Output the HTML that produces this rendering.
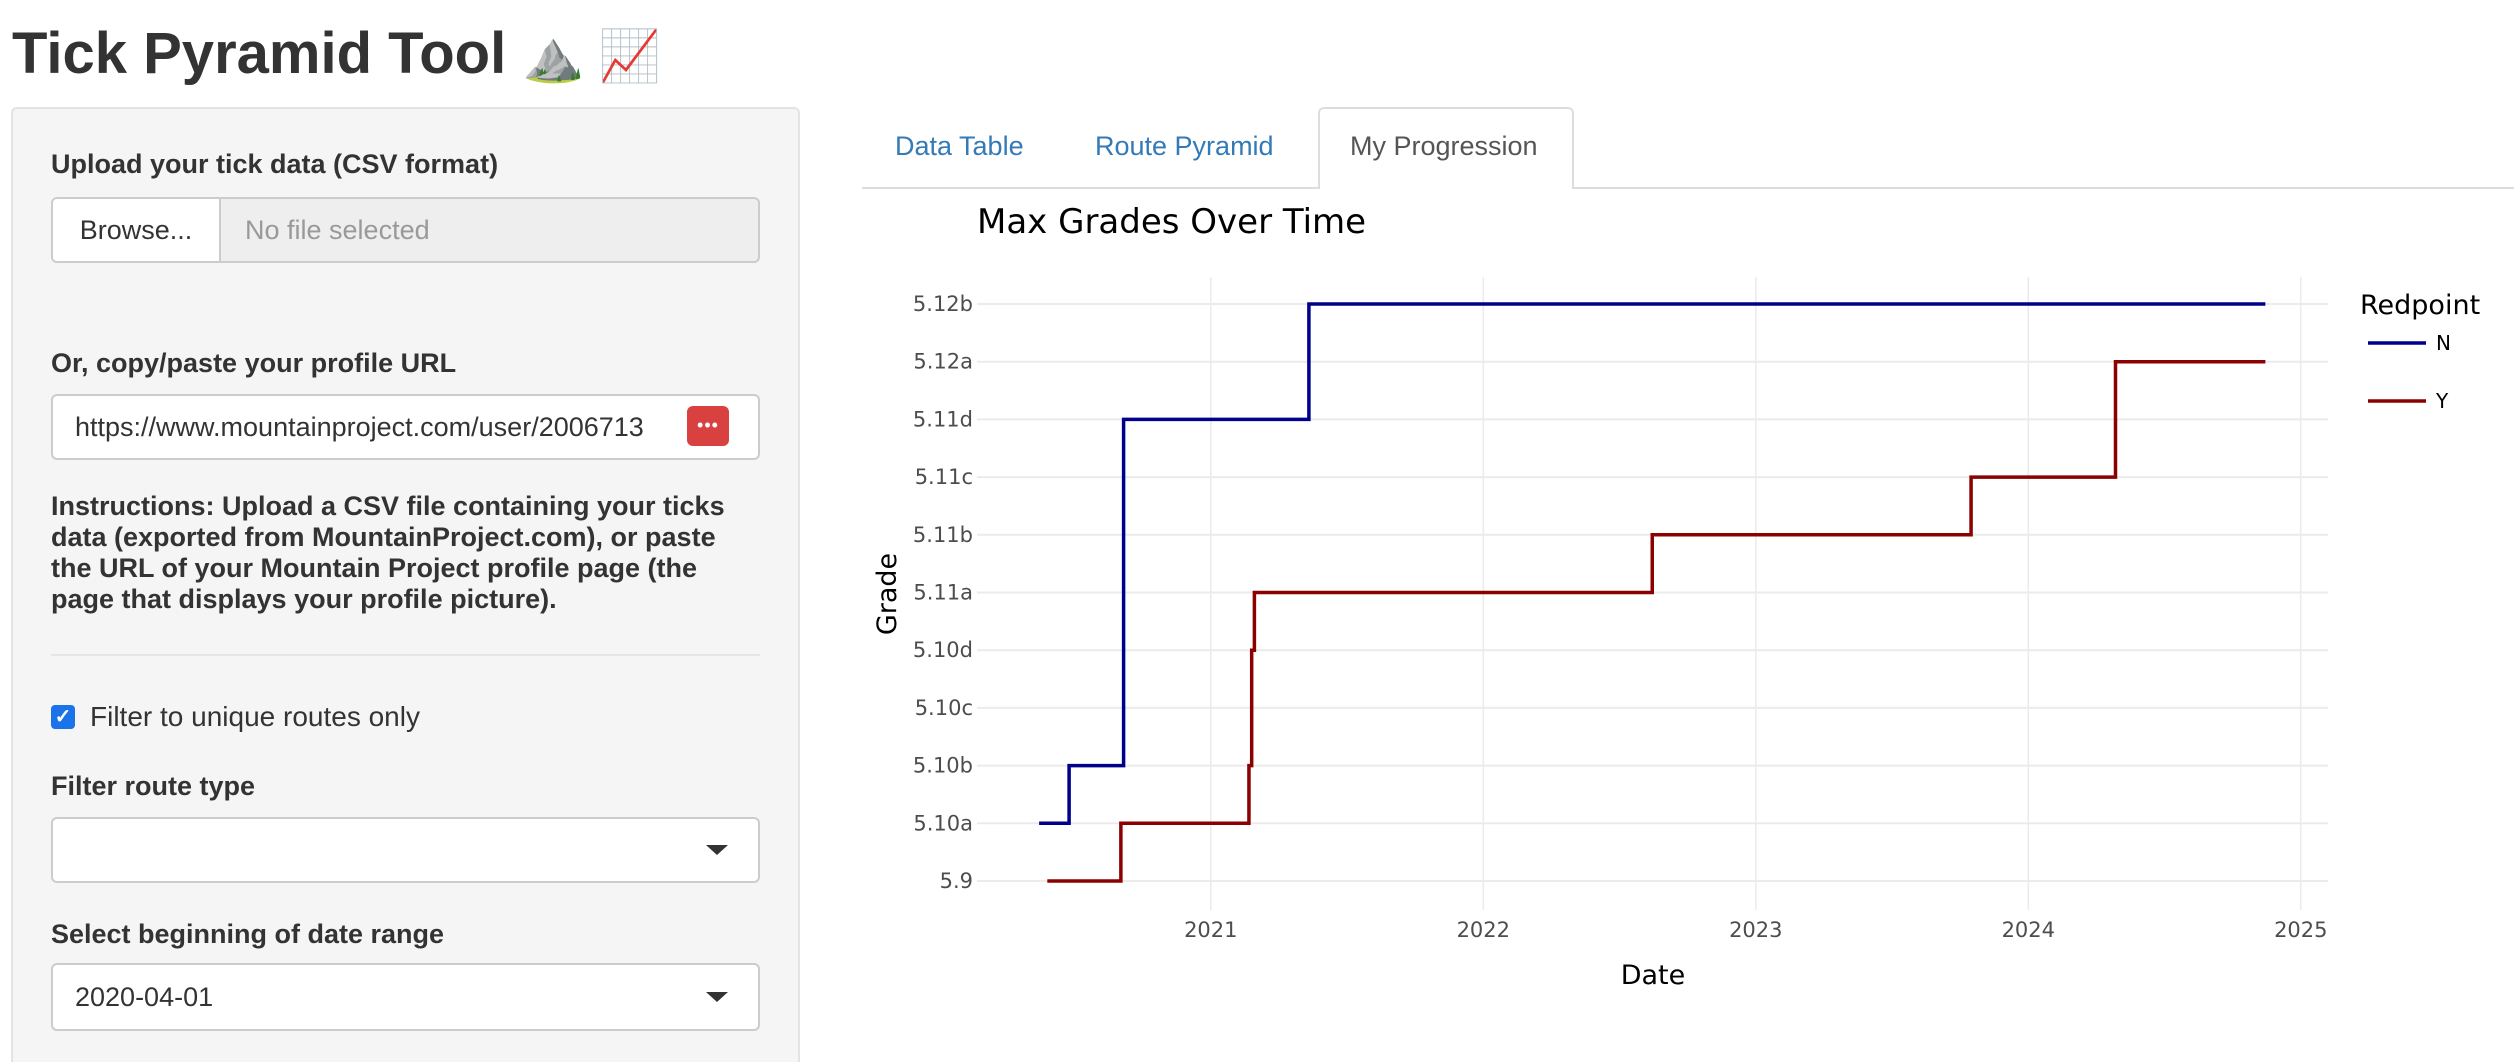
<!DOCTYPE html>
<html><head><meta charset="utf-8">
<style>
html,body{margin:0;width:2514px;height:1062px;overflow:hidden}
body{background:#fff;font-family:"Liberation Sans",sans-serif;color:#333;position:relative}
.a{position:absolute}
.lbl{position:absolute;left:51px;font-weight:bold;font-size:27px;color:#333;white-space:nowrap}
.inp{position:absolute;left:51px;width:709px;border:2px solid #ccc;border-radius:6px;background:#fff;box-sizing:border-box}
.caret{position:absolute;right:30px;top:50%;margin-top:-5px;width:0;height:0;border-left:11px solid transparent;border-right:11px solid transparent;border-top:10px solid #333}
.tab{position:absolute;font-size:27px;color:#337ab7;top:131px}
</style></head><body>
<div class="a" style="left:12px;top:20px;font-size:58px;font-weight:bold;color:#333;white-space:nowrap">Tick Pyramid Tool <span style="font-size:50px;font-weight:normal">⛰️ 📈</span></div>

<div class="a" style="left:11px;top:107px;width:789px;height:955px;background:#f5f5f5;border:2px solid #e3e3e3;border-bottom:none;border-radius:6px 6px 0 0;box-sizing:border-box"></div>

<div class="lbl" style="top:149px">Upload your tick data (CSV format)</div>
<div class="inp" style="top:197px;height:66px;background:#eee;overflow:hidden">
  <div class="a" style="left:0;top:0;width:166px;height:62px;background:#fff;border-right:2px solid #ccc;font-size:27px;line-height:62px;text-align:center;color:#333">Browse...</div>
  <div class="a" style="left:192px;top:0;line-height:62px;font-size:27px;color:#999">No file selected</div>
</div>

<div class="lbl" style="top:348px">Or, copy/paste your profile URL</div>
<div class="inp" style="top:394px;height:66px;overflow:hidden">
  <div class="a" style="left:22px;top:0;line-height:62px;font-size:27px;color:#333;white-space:nowrap">https://www.mountainproject.com/user/2006713</div>
  <div class="a" style="left:634px;top:10px;width:42px;height:40px;background:#d94040;border-radius:6px;color:#fff;font-size:18px;line-height:38px;text-align:center;letter-spacing:1px">•••</div>
</div>

<div class="a" style="left:51px;top:491px;width:680px;font-weight:bold;font-size:27px;line-height:31px;color:#333">Instructions: Upload a CSV file containing your ticks data (exported from MountainProject.com), or paste the URL of your Mountain Project profile page (the page that displays your profile picture).</div>

<div class="a" style="left:51px;top:654px;width:709px;height:2px;background:#e6e6e6"></div>

<div class="a" style="left:51px;top:705px;width:24px;height:24px;background:#1a73e8;border-radius:4px;color:#fff;font-size:20px;line-height:24px;text-align:center;font-weight:bold">✓</div>
<div class="a" style="left:90px;top:701px;font-size:28px;color:#333">Filter to unique routes only</div>

<div class="lbl" style="top:771px">Filter route type</div>
<div class="inp" style="top:817px;height:66px"><div class="caret"></div></div>

<div class="lbl" style="top:919px">Select beginning of date range</div>
<div class="inp" style="top:963px;height:68px"><div class="a" style="left:22px;top:0;line-height:64px;font-size:27px;color:#333">2020-04-01</div><div class="caret"></div></div>

<div class="a" style="left:862px;top:187px;width:1652px;height:2px;background:#ddd"></div>
<div class="a" style="left:1318px;top:107px;width:256px;height:82px;background:#fff;border:2px solid #ddd;border-bottom:none;border-radius:6px 6px 0 0;box-sizing:border-box"></div>
<div class="tab" style="left:895px">Data Table</div>
<div class="tab" style="left:1095px">Route Pyramid</div>
<div class="tab" style="left:1350px;color:#555">My Progression</div>

<svg class="a" style="left:0;top:0" width="2514" height="1062" id="chart"></svg>

<script>
const grades = ["5.9","5.10a","5.10b","5.10c","5.10d","5.11a","5.11b","5.11c","5.11d","5.12a","5.12b"];
const yearTicks = [2021,2022,2023,2024,2025];
const nDates = [2020.37,2020.48,2020.68,2021.36,2024.87];
const nGrades = [1,2,8,10,10];
const yDates = [2020.40,2020.67,2021.14,2021.15,2021.16,2022.62,2023.79,2024.32,2024.87];
const yGrades = [0,1,2,4,5,6,7,9,9];

const svg=document.getElementById('chart');
const NS='http://www.w3.org/2000/svg';
const X=v=>1210.8+(v-2021)*272.5;
const Y=i=>881-i*57.7;
function mk(tag,attrs,txt){const e=document.createElementNS(NS,tag);for(const k in attrs)e.setAttribute(k,attrs[k]);if(txt!==undefined)e.textContent=txt;svg.appendChild(e);return e;}
yearTicks.forEach(t=>{
  const l=mk('line',{x1:X(t),x2:X(t),y1:277,y2:910,stroke:'#ebebeb','stroke-width':1.5});
  
  
  const tx=mk('text',{x:X(t),y:937,'text-anchor':'middle','font-size':21,fill:'#4d4d4d','font-family':'DejaVu Sans, sans-serif'},String(t));
  
  
});
grades.forEach((g,i)=>{
  const l=mk('line',{x1:977,x2:2328,y1:Y(i),y2:Y(i),stroke:'#ebebeb','stroke-width':2});
  
  
  const tx=mk('text',{x:973,y:Y(i)+7,'text-anchor':'end','font-size':21,fill:'#4d4d4d','font-family':'DejaVu Sans, sans-serif'},g);
  
  
});
function step(ds,gs,color,name){
  let d='M'+X(ds[0])+','+Y(gs[0]);
  for(let i=1;i<ds.length;i++){d+=' H'+X(ds[i])+' V'+Y(gs[i]);}
  const p=mk('path',{d:d,fill:'none',stroke:color,'stroke-width':3.5});
  
  
}
step(nDates,nGrades,'#00008b','series-n-line');
step(yDates,yGrades,'#8b0000','series-y-line');
const t=mk('text',{x:977,y:233,'font-size':34,fill:'#000','font-family':'DejaVu Sans, sans-serif'},'Max Grades Over Time');


const xt=mk('text',{x:1653,y:984,'text-anchor':'middle','font-size':27,fill:'#000','font-family':'DejaVu Sans, sans-serif'},'Date');


const yt=mk('text',{x:0,y:0,'text-anchor':'middle','font-size':27,fill:'#000','font-family':'DejaVu Sans, sans-serif',transform:'translate(896,594) rotate(-90)'},'Grade');


const lt=mk('text',{x:2360,y:314,'font-size':27,fill:'#000','font-family':'DejaVu Sans, sans-serif'},'Redpoint');


[['N','#00008b',343],['Y','#8b0000',401]].forEach(([lab,c,y])=>{
  const l=mk('line',{x1:2368,x2:2426,y1:y,y2:y,stroke:c,'stroke-width':3.5});
  
  
  const tx=mk('text',{x:2436,y:y+7,'font-size':20,fill:'#000','font-family':'DejaVu Sans, sans-serif'},lab);
  
  
});
</script>
</body></html>
